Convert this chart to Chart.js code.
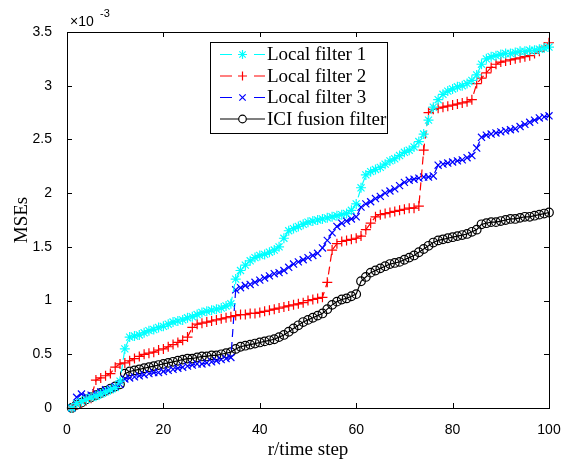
<!DOCTYPE html>
<html>
<head>
<meta charset="utf-8">
<script src="https://cdn.jsdelivr.net/npm/chart.js@4.4.1/dist/chart.umd.min.js"></script>
<style>
  html, body { margin: 0; padding: 0; background: #fff; }
  #wrap { width: 578px; height: 462px; }
</style>
</head>
<body>
<div id="wrap"><canvas id="mse" width="578" height="462"></canvas></div>
<script>
// values in units of 1e-3
const steps = Array.from({ length: 100 }, (_, i) => i + 1);
const xTicks = [0, 20, 40, 60, 80, 100];
const yTicks = [0, 0.5, 1, 1.5, 2, 2.5, 3, 3.5];
const seriesNames = ['Local filter 1', 'Local filter 2', 'Local filter 3', 'ICI fusion filter'];

const local1 = [
  0.00, 0.04, 0.06, 0.08, 0.10, 0.11, 0.13, 0.15, 0.17, 0.19,
  0.25, 0.55, 0.66, 0.67, 0.68, 0.70, 0.72, 0.73, 0.75, 0.76,
  0.78, 0.80, 0.81, 0.82, 0.84, 0.85, 0.87, 0.89, 0.90, 0.91,
  0.92, 0.93, 0.95, 0.97, 1.20, 1.28, 1.33, 1.37, 1.40, 1.42,
  1.43, 1.45, 1.47, 1.50, 1.58, 1.65, 1.67, 1.69, 1.71, 1.73,
  1.74, 1.75, 1.76, 1.77, 1.78, 1.79, 1.80, 1.81, 1.84, 1.90,
  2.05, 2.17, 2.20, 2.22, 2.24, 2.27, 2.30, 2.32, 2.35, 2.38,
  2.40, 2.43, 2.48, 2.55, 2.68, 2.80, 2.87, 2.92, 2.95, 2.97,
  2.99, 3.00, 3.02, 3.05, 3.10, 3.20, 3.25, 3.27, 3.28, 3.29,
  3.30, 3.30, 3.31, 3.32, 3.32, 3.33, 3.33, 3.34, 3.35, 3.36
];
const local2 = [
  0.00, 0.03, 0.05, 0.07, 0.09, 0.26, 0.28, 0.30, 0.32, 0.38,
  0.41, 0.42, 0.44, 0.46, 0.48, 0.50, 0.51, 0.52, 0.54, 0.55,
  0.57, 0.59, 0.61, 0.63, 0.66, 0.75, 0.78, 0.79, 0.80, 0.81,
  0.82, 0.83, 0.84, 0.85, 0.86, 0.87, 0.87, 0.88, 0.88, 0.89,
  0.90, 0.91, 0.92, 0.93, 0.94, 0.95, 0.96, 0.97, 0.98, 1.00,
  1.01, 1.02, 1.03, 1.17, 1.47, 1.53, 1.55, 1.56, 1.57, 1.58,
  1.60, 1.66, 1.72, 1.78, 1.80, 1.81, 1.82, 1.83, 1.84, 1.85,
  1.86, 1.86, 1.88, 2.40, 2.75, 2.78, 2.79, 2.80, 2.81, 2.82,
  2.83, 2.84, 2.85, 2.87, 3.02, 3.07, 3.12, 3.17, 3.20, 3.22,
  3.23, 3.24, 3.25, 3.26, 3.27, 3.28, 3.30, 3.32, 3.36, 3.40
];
const local3 = [
  0.00, 0.10, 0.13, 0.11, 0.12, 0.14, 0.15, 0.17, 0.18, 0.20,
  0.22, 0.27, 0.28, 0.29, 0.30, 0.31, 0.32, 0.33, 0.33, 0.34,
  0.35, 0.36, 0.37, 0.38, 0.39, 0.40, 0.41, 0.41, 0.42, 0.43,
  0.44, 0.45, 0.46, 0.47, 1.10, 1.12, 1.14, 1.15, 1.17, 1.19,
  1.21, 1.23, 1.25, 1.26, 1.28, 1.31, 1.34, 1.36, 1.38, 1.40,
  1.42, 1.44, 1.49, 1.56, 1.63, 1.69, 1.72, 1.74, 1.76, 1.78,
  1.87, 1.90, 1.92, 1.95, 1.97, 2.00, 2.02, 2.04, 2.07, 2.10,
  2.12, 2.13, 2.14, 2.15, 2.15, 2.16, 2.26, 2.27, 2.28, 2.29,
  2.30, 2.31, 2.33, 2.35, 2.42, 2.52, 2.54, 2.55, 2.56, 2.57,
  2.58, 2.59, 2.60, 2.62, 2.64, 2.66, 2.68, 2.70, 2.71, 2.72
];
const iciFusion = [
  0.00, 0.03, 0.05, 0.08, 0.10, 0.12, 0.14, 0.16, 0.18, 0.20,
  0.22, 0.32, 0.34, 0.35, 0.36, 0.37, 0.38, 0.39, 0.40, 0.41,
  0.42, 0.43, 0.44, 0.45, 0.46, 0.46, 0.47, 0.48, 0.48, 0.49,
  0.49, 0.50, 0.51, 0.52, 0.55, 0.57, 0.58, 0.59, 0.60, 0.61,
  0.62, 0.63, 0.64, 0.66, 0.68, 0.71, 0.74, 0.77, 0.80, 0.82,
  0.84, 0.86, 0.88, 0.92, 0.96, 0.99, 1.01, 1.02, 1.04, 1.06,
  1.18, 1.22, 1.26, 1.28, 1.30, 1.32, 1.34, 1.35, 1.36, 1.38,
  1.40, 1.42, 1.45, 1.48, 1.51, 1.54, 1.56, 1.57, 1.58, 1.59,
  1.60, 1.61, 1.62, 1.64, 1.66, 1.71, 1.72, 1.73, 1.73, 1.74,
  1.75, 1.76, 1.76, 1.77, 1.78, 1.78, 1.79, 1.80, 1.81, 1.82
];

const SERIF = "'Liberation Serif', 'Times New Roman', serif";
const SANS = "'Liberation Sans', Arial, sans-serif";
const C = { cyan: '#00FFFF', red: '#FF0000', blue: '#0000FF', black: '#000000' };
const DASH = [8, 5];

function ds(label, data, color, style, dash) {
  return {
    label, data: data.map((v, i) => ({ x: steps[i], y: v })),
    borderColor: color, backgroundColor: 'rgba(0,0,0,0)',
    borderWidth: 1.2, borderDash: dash, tension: 0,
    pointStyle: style, pointRadius: style === 'circle' ? 4.3 : 5,
    pointBorderColor: color, pointBackgroundColor: 'rgba(0,0,0,0)', pointBorderWidth: 1.2,
    clip: false
  };
}

// frame, inward ticks, exponent, axis titles, legend
const matlabAxes = {
  id: 'matlabAxes',
  afterDatasetsDraw(chart) {
    const { ctx, chartArea: a, scales: { x, y } } = chart;
    ctx.save();
    ctx.strokeStyle = '#000';
    ctx.lineWidth = 1;
    ctx.strokeRect(a.left + 0.5, a.top + 0.5, a.right - a.left, a.bottom - a.top);
    const tl = 5;
    ctx.beginPath();
    xTicks.forEach(v => {
      const px = Math.round(x.getPixelForValue(v)) + 0.5;
      ctx.moveTo(px, a.bottom); ctx.lineTo(px, a.bottom - tl);
      ctx.moveTo(px, a.top); ctx.lineTo(px, a.top + tl);
    });
    yTicks.forEach(v => {
      const py = Math.round(y.getPixelForValue(v)) + 0.5;
      ctx.moveTo(a.left, py); ctx.lineTo(a.left + tl, py);
      ctx.moveTo(a.right, py); ctx.lineTo(a.right - tl, py);
    });
    ctx.stroke();

    // exponent
    ctx.fillStyle = '#000';
    ctx.textBaseline = 'alphabetic';
    ctx.textAlign = 'left';
    ctx.font = '14px ' + SANS;
    ctx.fillText('\u00d710', a.left + 3, 26);
    ctx.font = '11px ' + SANS;
    ctx.fillText('-3', a.left + 33, 17);

    // axis titles
    ctx.font = '19px ' + SERIF;
    ctx.textAlign = 'center';
    ctx.fillText('r/time step', (a.left + a.right) / 2, 455);
    ctx.save();
    ctx.translate(27, (a.top + a.bottom) / 2);
    ctx.rotate(-Math.PI / 2);
    ctx.fillText('MSEs', 0, 0);
    ctx.restore();

    // legend box
    const lx = 210, ly = 42, lw = 177, lh = 91;
    ctx.fillStyle = '#fff';
    ctx.fillRect(lx, ly, lw, lh);
    ctx.strokeRect(lx + 0.5, ly + 0.5, lw, lh);
    chart.data.datasets.forEach((d, i) => {
      const yy = ly + 12.5 + i * 21.5;
      ctx.fillStyle = '#fff';
      ctx.strokeStyle = d.borderColor;
      ctx.lineWidth = 1.2;
      Chart.helpers.drawPoint(ctx, { pointStyle: d.pointStyle, radius: d.pointStyle === 'circle' ? 3.8 : 4.5, rotation: 0, borderWidth: 1.2 }, lx + 32.5, yy);
      ctx.strokeStyle = d.borderColor;
      ctx.beginPath();
      if (d.borderDash.length) {
        ctx.moveTo(lx + 10, yy); ctx.lineTo(lx + 22, yy);
        ctx.moveTo(lx + 44, yy); ctx.lineTo(lx + 55, yy);
      } else {
        ctx.moveTo(lx + 10, yy); ctx.lineTo(lx + 28.5, yy);
        ctx.moveTo(lx + 36.5, yy); ctx.lineTo(lx + 55, yy);
      }
      ctx.stroke();
      ctx.fillStyle = '#000';
      ctx.font = '19px ' + SERIF;
      ctx.textAlign = 'left';
      ctx.textBaseline = 'middle';
      ctx.fillText(d.label, lx + 57, yy + 1);
    });
    ctx.restore();
  }
};

new Chart(document.getElementById('mse').getContext('2d'), {
  type: 'line',
  data: {
    datasets: [
      ds(seriesNames[0], local1, C.cyan, 'star', DASH),
      ds(seriesNames[1], local2, C.red, 'cross', DASH),
      ds(seriesNames[2], local3, C.blue, 'crossRot', DASH),
      ds(seriesNames[3], iciFusion, C.black, 'circle', [])
    ]
  },
  options: {
    responsive: false,
    animation: false,
    devicePixelRatio: 1,
    layout: { padding: { left: 0, top: 32, right: 29, bottom: 0 } },
    plugins: { legend: { display: false }, tooltip: { enabled: false } },
    scales: {
      x: {
        type: 'linear', min: 0, max: 100,
        afterFit: s => { s.height = 54; },
        afterBuildTicks: s => { s.ticks = xTicks.map(v => ({ value: v })); },
        grid: { display: false }, border: { display: false },
        ticks: { color: '#000', font: { size: 14, family: SANS }, padding: 6, maxRotation: 0, callback: v => String(v) }
      },
      y: {
        type: 'linear', min: 0, max: 3.5,
        afterFit: s => { s.width = 67; },
        afterBuildTicks: s => { s.ticks = yTicks.map(v => ({ value: v })); },
        grid: { display: false }, border: { display: false },
        ticks: { color: '#000', font: { size: 14, family: SANS }, padding: 7, callback: v => String(v) }
      }
    }
  },
  plugins: [matlabAxes]
});
</script>
</body>
</html>
